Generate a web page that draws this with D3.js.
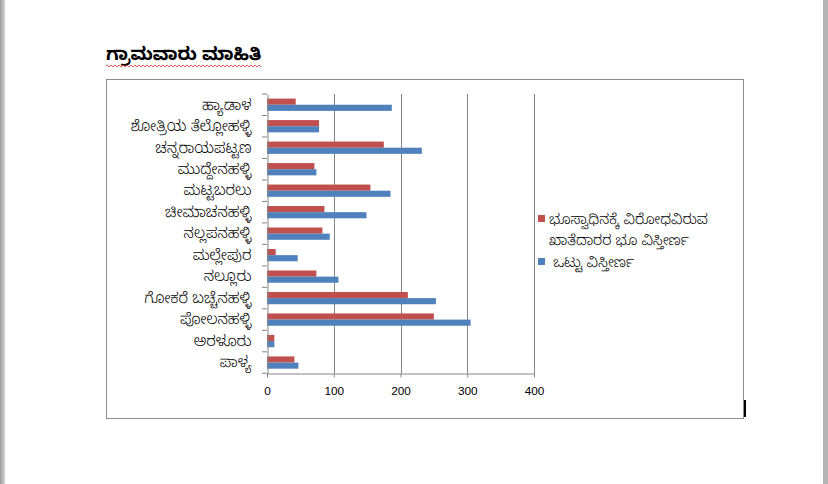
<!DOCTYPE html>
<html><head><meta charset="utf-8">
<script src="https://cdn.jsdelivr.net/npm/d3@7"></script>
<style>
html,body{margin:0;padding:0;background:#fff;}
svg{display:block;}
</style></head>
<body>
<svg id="c" width="828" height="484"></svg>
<script>
const title = "ಗ್ರಾಮವಾರು ಮಾಹಿತಿ";
const categories = ["ಹ್ಯಾಡಾಳ","ಶೋತ್ರಿಯ ತೆಲ್ಲೋಹಳ್ಳಿ","ಚನ್ನರಾಯಪಟ್ಟಣ","ಮುದ್ದೇನಹಳ್ಳಿ","ಮಟ್ಟಬರಲು","ಚೀಮಾಚನಹಳ್ಳಿ","ನಲ್ಲಪನಹಳ್ಳಿ","ಮಲ್ಲೇಪುರ","ನಲ್ಲೂರು","ಗೋಕರೆ ಬಚ್ಚೆನಹಳ್ಳಿ","ಪೋಲನಹಳ್ಳಿ","ಅರಳೂರು","ಪಾಳ್ಯ"];
const seriesNames = [["ಭೂಸ್ವಾಧಿನಕ್ಕೆ ವಿರೋಧವಿರುವ","ಖಾತೆದಾರರ ಭೂ ವಿಸ್ತೀರ್ಣ"],[" ಒಟ್ಟು ವಿಸ್ತೀರ್ಣ"]];
const opposedArea = [43,78,175,71,155,86,83,13,74,211,250,11,41];
const totalArea  = [187,78,232,74,185,149,94,46,107,253,305,11,47];
const xTicks = [0,100,200,300,400];
const colors = ["#c0504d","#4f81bd"];

const svg = d3.select("#c");
const grad = svg.append("defs").append("linearGradient").attr("id","g");
grad.append("stop").attr("offset","0").attr("stop-color","#9a9a9a");
grad.append("stop").attr("offset","1").attr("stop-color","#d8d8d8");
svg.append("rect").attr("x",0).attr("y",0).attr("width",5).attr("height",484).attr("fill","url(#g)");
svg.append("rect").attr("x",823).attr("y",0).attr("width",5).attr("height",484).attr("fill","#b4b4b4");

const fontK = "'Noto Sans Kannada','Tunga','Noto Sans','DejaVu Sans',sans-serif";
svg.append("text").attr("x",106).attr("y",60).attr("font-family",fontK)
  .attr("font-size",18.2).attr("font-weight","bold").attr("fill","#000").text(title);
let sq = "M106,65";
for (let x=106; x<262; x+=2) sq += ` L${x+1},${(x/2)%2===0?67:65} `;
svg.append("path").attr("d",sq).attr("fill","none").attr("stroke","#e03030").attr("stroke-width",0.8);

svg.append("rect").attr("x",106.5).attr("y",79.5).attr("width",637).attr("height",339)
  .attr("fill","#fff").attr("stroke","#8c8c8c").attr("stroke-width",1);

const x = d3.scaleLinear().domain([0,400]).range([267,534]);
const y = d3.scaleBand().domain(categories).range([94,373.3]).paddingInner(0).paddingOuter(0);
const step = y.bandwidth();
const barH = step/3.5;

svg.append("g").selectAll("line").data(xTicks.slice(1)).join("line")
  .attr("x1",d=>Math.round(x(d))+0.5).attr("x2",d=>Math.round(x(d))+0.5)
  .attr("y1",94).attr("y2",373.3).attr("stroke","#868686").attr("stroke-width",1);

const g = svg.append("g");
[opposedArea,totalArea].forEach((vals,si)=>{
  g.selectAll(".s"+si).data(categories).join("rect")
    .attr("x",x(0)).attr("y",(d,i)=>y(d)+(step-2*barH)/2+si*barH)
    .attr("width",(d,i)=>x(vals[i])-x(0)).attr("height",barH).attr("fill",colors[si]);
});

const xa = svg.append("g").attr("transform","translate(0,373.5)")
  .call(d3.axisBottom(x).tickValues(xTicks).tickSize(4).tickSizeOuter(0).tickPadding(9));
xa.select(".domain").attr("stroke","#868686");
xa.selectAll("line").attr("stroke","#868686");
xa.selectAll("text").attr("font-family","'Liberation Sans',Arial,sans-serif").attr("font-size",11.8).attr("fill","#000");

const ya = svg.append("g").attr("transform","translate(267.5,0)")
  .call(d3.axisLeft(y).tickSize(0).tickPadding(16));
ya.select(".domain").attr("stroke","#868686");
ya.selectAll("text").attr("font-family",fontK).attr("font-size",15).attr("font-weight",300).attr("fill","#000");
svg.append("g").selectAll("line").data(d3.range(categories.length+1)).join("line")
  .attr("x1",262).attr("x2",267).attr("y1",i=>94+i*step).attr("y2",i=>94+i*step)
  .attr("stroke","#868686");

const lg = svg.append("g");
lg.append("rect").attr("x",538).attr("y",215).attr("width",7).attr("height",7).attr("fill",colors[0]);
lg.append("rect").attr("x",538).attr("y",258).attr("width",7).attr("height",7).attr("fill",colors[1]);
seriesNames[0].forEach((s,i)=>lg.append("text").attr("x",549).attr("y",224+i*20.5).attr("font-family",fontK)
  .attr("font-size",14.5).attr("font-weight",300).attr("fill","#000").text(s));
lg.append("text").attr("x",549).attr("y",267).attr("font-family",fontK).attr("font-size",14.5).attr("font-weight",300)
  .attr("fill","#000").attr("xml:space","preserve").style("white-space","pre").text(seriesNames[1][0]);

svg.append("rect").attr("x",744).attr("y",400).attr("width",2).attr("height",17).attr("fill","#000");
</script>
</body></html>
